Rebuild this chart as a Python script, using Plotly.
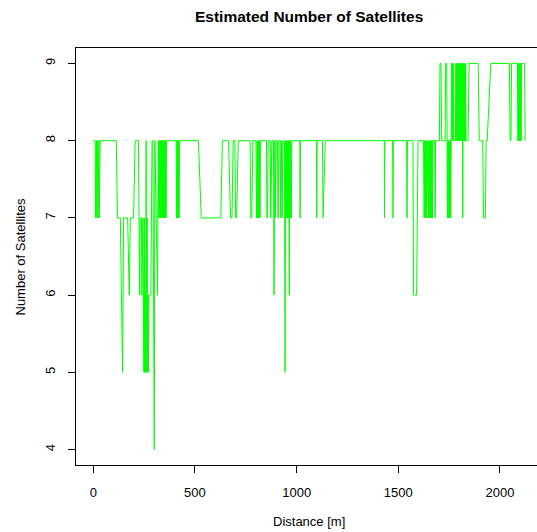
import plotly.graph_objects as go

# Distance along track [m] and estimated number of satellites (vertices)
distance = [
    0, 10, 11, 13, 14, 16, 17, 19, 20, 22, 23, 25, 26, 28, 29, 31, 32, 34,
    113, 119, 133, 144, 149, 169, 177, 182, 198, 206, 222, 226, 228, 230, 237, 239, 241, 244,
    249, 251, 253, 255, 257, 259, 260, 261, 263, 265, 267, 269, 271, 274, 283, 287, 289, 293,
    300, 303, 310, 316, 320,
    322, 324, 326, 328, 330, 332, 334, 336, 338, 340, 342, 344, 346, 348, 350, 352, 354, 356, 358, 360,
    408, 410, 412, 414, 416, 418, 420, 422, 424,
    517, 531, 627, 635, 665, 675, 682, 688, 696, 700, 705, 713,
    771, 775, 779, 785, 800, 803, 806, 808, 810, 812, 814, 816, 818, 820, 822,
    852, 854, 857, 860, 870, 873, 878, 886, 889, 893, 896, 899, 906, 909, 913, 919, 922, 925, 929, 932,
    940, 943, 946, 949, 951, 954, 956, 959, 961, 964, 966, 969, 971, 974, 976,
    1016, 1017, 1019, 1097, 1099, 1101, 1127, 1130, 1141,
    1431, 1432, 1434, 1472, 1474, 1476, 1541, 1543, 1545, 1572, 1575, 1590, 1597,
    1624, 1627, 1629, 1631, 1633, 1635, 1637, 1639, 1641,
    1648, 1650, 1652, 1654, 1656, 1658, 1660, 1662, 1664, 1666, 1668, 1670,
    1679, 1681, 1683, 1702, 1705, 1710, 1713, 1730, 1733, 1738, 1740,
    1742, 1744, 1746, 1748, 1750, 1752, 1754, 1756, 1758, 1760,
    1762, 1764, 1766, 1768, 1770, 1772, 1781,
    1783, 1785, 1787, 1789, 1791, 1793, 1795, 1797, 1799,
    1801, 1803, 1805, 1807, 1809, 1811, 1813, 1815, 1817, 1819, 1821, 1823, 1825, 1827, 1829, 1831, 1833,
    1843, 1848, 1893, 1898, 1915, 1919, 1928, 1932, 1937, 1955,
    2046, 2050, 2054, 2057, 2086,
    2088, 2090, 2092, 2094, 2096, 2098, 2100, 2102, 2104, 2106,
    2121, 2124,
]
satellites = [
    8, 8, 7, 8, 7, 8, 7, 8, 7, 8, 7, 8, 7, 8, 7, 8, 7, 8,
    8, 7, 7, 5, 7, 7, 6, 7, 7, 8, 8, 7, 6, 7, 7, 6, 7, 7,
    5, 7, 5, 6, 5, 7, 8, 7, 5, 7, 5, 6, 5, 6, 6, 7, 8, 8,
    4, 8, 7, 6, 8,
    7, 8, 7, 8, 7, 8, 7, 8, 7, 8, 7, 8, 7, 8, 7, 8, 7, 8, 7, 8,
    8, 7, 8, 7, 8, 7, 8, 7, 8,
    8, 7, 7, 8, 8, 7, 7, 8, 8, 7, 7, 8,
    8, 7, 7, 8, 8, 7, 8, 7, 8, 7, 8, 7, 8, 7, 8,
    8, 7, 7, 8, 8, 7, 8, 8, 6, 8, 7, 8, 8, 7, 8, 8, 7, 8, 7, 8,
    8, 5, 8, 7, 8, 7, 8, 7, 8, 6, 8, 7, 8, 7, 8,
    8, 7, 8, 8, 7, 8, 8, 7, 8,
    8, 7, 8, 8, 7, 8, 8, 7, 8, 8, 6, 6, 8,
    8, 7, 8, 7, 8, 7, 8, 7, 8,
    7, 8, 7, 8, 7, 8, 7, 8, 7, 8, 7, 8,
    8, 7, 8, 8, 9, 9, 8, 8, 9, 9, 8,
    7, 8, 7, 8, 7, 8, 7, 8, 7, 8,
    9, 8, 9, 8, 9, 8, 8,
    9, 8, 9, 8, 9, 8, 9, 8, 9,
    8, 9, 8, 9, 8, 9, 8, 9, 7, 9, 8, 9, 8, 9, 8, 9, 8,
    8, 9, 9, 8, 8, 7, 7, 8, 8, 9,
    9, 8, 8, 9, 9,
    8, 9, 8, 9, 8, 9, 8, 9, 8, 9,
    9, 8,
]

x_ticks = [0, 500, 1000, 1500, 2000]
y_ticks = [4, 5, 6, 7, 8, 9]

FONT = "Liberation Sans, Arial, Helvetica, sans-serif"
FS = 13

fig = go.Figure()
fig.add_trace(go.Scatter(
    x=distance, y=satellites, mode="lines",
    line=dict(color="#00ff00", width=1),
    showlegend=False, hoverinfo="skip",
))

W, H = 537, 532
L, R, T, B = 76, 0, 48, 67

fig.update_layout(
    width=W, height=H,
    margin=dict(l=L, r=R, t=T, b=B, pad=0),
    paper_bgcolor="white", plot_bgcolor="white",
    font=dict(family=FONT, size=FS, color="black"),
    showlegend=False,
)

fig.update_xaxes(
    range=[-85, 2182], tickmode="array", tickvals=x_ticks,
    ticktext=[str(v) for v in x_ticks],
    showgrid=False, zeroline=False,
    showline=True, linecolor="black", linewidth=1, mirror=True,
    ticks="outside", ticklen=7, tickcolor="black", tickwidth=1,
    ticklabelstandoff=8,
    tickfont=dict(family=FONT, size=FS, color="black"),
)
fig.update_yaxes(
    range=[3.8, 9.2], tickmode="array", tickvals=y_ticks,
    ticktext=[str(v) for v in y_ticks],
    showgrid=False, zeroline=False,
    showline=True, linecolor="black", linewidth=1, mirror=False,
    ticks="outside", ticklen=7, tickcolor="black", tickwidth=1,
    tickangle=-90, ticklabelstandoff=8,
    tickfont=dict(family=FONT, size=FS, color="black"),
)

cx = 309
fig.add_annotation(
    text="<b>Estimated Number of Satellites</b>", xref="paper", yref="paper",
    x=(cx - L) / (W - L - R), y=1 + (T - 16) / (H - T - B),
    xanchor="center", yanchor="middle", showarrow=False,
    font=dict(family=FONT, size=15.5, color="black"),
)
fig.add_annotation(
    text="Distance [m]", xref="paper", yref="paper",
    x=(cx - L) / (W - L - R), y=-(521.5 - (H - B)) / (H - T - B),
    xanchor="center", yanchor="middle", showarrow=False,
    font=dict(family=FONT, size=FS, color="black"),
)
fig.add_annotation(
    text="Number of Satellites", xref="paper", yref="paper",
    x=-(L - 20) / (W - L - R), y=0.5,
    xanchor="center", yanchor="middle", showarrow=False, textangle=-90,
    font=dict(family=FONT, size=FS, color="black"),
)

fig.write_html("out.html")
